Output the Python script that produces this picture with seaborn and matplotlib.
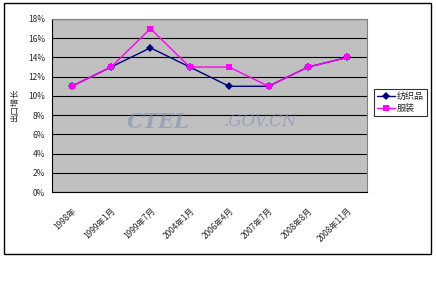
import numpy as np
import pandas as pd
import matplotlib.pyplot as plt
import seaborn as sns
from matplotlib.patches import Rectangle

sns.set_style('white')
plt.rcParams['font.family'] = ['Noto Sans CJK SC', 'DejaVu Sans']

# 数据
periods = ['1998年', '1999年1月', '1999年7月', '2004年1月',
           '2006年4月', '2007年7月', '2008年8月', '2008年11月']
textile = [11, 13, 15, 13, 11, 11, 13, 14]   # 纺织品
apparel = [11, 13, 17, 13, 13, 11, 13, 14]   # 服装
y_ticks = [0, 2, 4, 6, 8, 10, 12, 14, 16, 18]

df = pd.DataFrame({'pos': np.arange(len(periods)),
                   '纺织品': textile, '服装': apparel})

fig = plt.figure(figsize=(4.37, 2.82), dpi=100)
W, H = 437, 282
ax = fig.add_axes([52 / W, 1 - 192 / H, (367 - 52) / W, (192 - 19) / H])
ax.set_facecolor('#c0c0c0')

sns.lineplot(data=df, x='pos', y='纺织品', ax=ax, color='#000080', lw=1,
             marker='D', markersize=4, markeredgewidth=0, label='纺织品')
sns.lineplot(data=df, x='pos', y='服装', ax=ax, color='#ff00ff', lw=1,
             marker='s', markersize=5, markeredgewidth=0, label='服装')

ax.set_xlim(-0.5, len(periods) - 0.5)
ax.set_ylim(0, 18)
ax.set_yticks(y_ticks)
ax.set_yticklabels([f'{v}%' for v in y_ticks], fontsize=6)
ax.yaxis.grid(True, color='black', lw=0.8)
ax.set_axisbelow(True)
ax.set_xticks(np.arange(len(periods)))
ax.set_xticklabels(periods, rotation=45, ha='right', rotation_mode='anchor',
                   fontsize=6)
ax.set_xticks(np.arange(len(periods)) + 0.5, minor=True)
ax.tick_params(axis='x', which='major', length=0, pad=10)
ax.tick_params(axis='x', which='minor', length=4, direction='in', color='black')
ax.tick_params(axis='y', length=3, color='black', pad=2)
for s in ax.spines.values():
    s.set_color('#808080')
ax.spines['left'].set_color('black')
ax.spines['bottom'].set_color('black')
ax.set_xlabel('')
ax.set_ylabel('出口增长', fontsize=6, labelpad=6)

# 水印
ax.text(2.2, 7.3, 'CTEL', color='#7888b8', alpha=0.5, fontsize=15,
        fontstyle='italic', fontweight='bold', family='DejaVu Serif',
        ha='center', va='center')
ax.text(4.8, 7.3, '.GOV.CN', color='#7f8cc0', alpha=0.6, fontsize=12,
        fontstyle='italic', family='DejaVu Serif', ha='center', va='center')

leg = ax.legend(loc='upper left', bbox_to_anchor=(374 / W, 1 - 89 / H),
                bbox_transform=fig.transFigure, fontsize=6.5, frameon=True,
                fancybox=False, edgecolor='black', handlelength=2.0,
                borderpad=0.35, borderaxespad=0, labelspacing=0.35,
                handletextpad=0.2)
leg.get_frame().set_linewidth(0.8)

fig.patches.append(Rectangle((4 / W, 1 - 254 / H), (431 - 4) / W, (254 - 3) / H,
                             transform=fig.transFigure, fill=False,
                             edgecolor='black', lw=1))

fig.savefig('out.png', dpi=100)
